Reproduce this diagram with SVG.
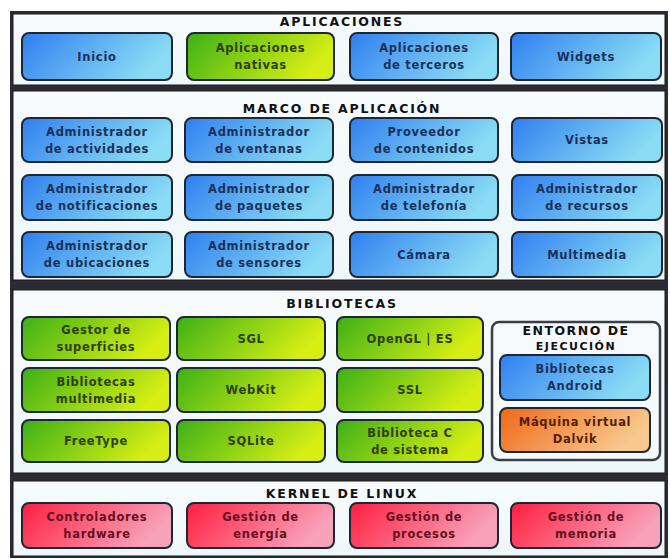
<svg xmlns="http://www.w3.org/2000/svg" width="670" height="559" viewBox="0 0 670 559">
<defs>
<linearGradient id="gBlue" x1="0" y1="0" x2="1" y2="0.3"><stop offset="0" stop-color="#2f7ff0"/><stop offset="1" stop-color="#8adcf4"/></linearGradient>
<linearGradient id="gGreen" x1="0" y1="0" x2="1" y2="0.3"><stop offset="0" stop-color="#3cb016"/><stop offset="1" stop-color="#d6ee14"/></linearGradient>
<linearGradient id="gRed" x1="0" y1="0" x2="1" y2="0.3"><stop offset="0" stop-color="#ff1e3e"/><stop offset="1" stop-color="#f8a2ba"/></linearGradient>
<linearGradient id="gOrange" x1="0" y1="0" x2="1" y2="0.3"><stop offset="0" stop-color="#f06818"/><stop offset="1" stop-color="#f8c88e"/></linearGradient>
<linearGradient id="gPanel" x1="0" y1="0" x2="0" y2="1"><stop offset="0" stop-color="#f7fbfd"/><stop offset="1" stop-color="#eef7fa"/></linearGradient>
</defs>
<style>
.frame{fill:#2c2a32}
.panel{fill:url(#gPanel);stroke:#1a1a1a;stroke-width:1}
.box{stroke:#1d2733;stroke-width:2}
.blue{fill:url(#gBlue)}
.green{fill:url(#gGreen)}
.red{fill:url(#gRed)}
.orange{fill:url(#gOrange)}
.env{fill:#f6fafc;stroke:#3a3f46;stroke-width:2.5}
text{font-family:"DejaVu Sans","Liberation Sans",sans-serif;font-weight:bold;text-anchor:middle}
.t{font-size:11.5px;letter-spacing:0.7px}
.tb{fill:#1c3058}
.tg{fill:#2f3e0a}
.tr{fill:#661020}
.to{fill:#551e06}
.title{font-size:12.5px;letter-spacing:1.8px;fill:#111}
</style>
<rect class="frame" x="10" y="11" width="658" height="547"/>
<g id="panel-aplicaciones">
<rect class="panel" x="13" y="14" width="652" height="71"/>
<text class="title" x="342" y="26">APLICACIONES</text>
</g>
<g id="panel-marco">
<rect class="panel" x="13" y="91" width="652" height="189"/>
<text class="title" x="342" y="113">MARCO DE APLICACIÓN</text>
</g>
<g id="panel-bibliotecas">
<rect class="panel" x="13" y="290" width="652" height="183"/>
<text class="title" x="342" y="308">BIBLIOTECAS</text>
</g>
<g id="panel-kernel">
<rect class="panel" x="13" y="481" width="652" height="75"/>
<text class="title" x="342" y="498">KERNEL DE LINUX</text>
</g>
<g id="connectors"/>
<!-- Aplicaciones -->
<g id="n-inicio"><rect class="box blue" x="22" y="33" width="150" height="47" rx="7"/><text class="t tb" x="97" y="60.5">Inicio</text></g>
<g id="n-apl-nativas"><rect class="box green" x="187" y="33" width="147" height="47" rx="7"/><text class="t tg" x="260.5" y="52">Aplicaciones</text><text class="t tg" x="260.5" y="69">nativas</text></g>
<g id="n-apl-terceros"><rect class="box blue" x="350" y="33" width="148" height="47" rx="7"/><text class="t tb" x="424" y="52">Aplicaciones</text><text class="t tb" x="424" y="69">de terceros</text></g>
<g id="n-widgets"><rect class="box blue" x="511" y="33" width="150" height="47" rx="7"/><text class="t tb" x="586" y="60.5">Widgets</text></g>
<!-- Marco de aplicacion -->
<g id="n-adm-actividades"><rect class="box blue" x="22" y="118" width="150" height="44" rx="7"/><text class="t tb" x="97" y="135.5">Administrador</text><text class="t tb" x="97" y="152.5">de actividades</text></g>
<g id="n-adm-ventanas"><rect class="box blue" x="185" y="118" width="148" height="44" rx="7"/><text class="t tb" x="259" y="135.5">Administrador</text><text class="t tb" x="259" y="152.5">de ventanas</text></g>
<g id="n-proveedor"><rect class="box blue" x="350" y="118" width="148" height="44" rx="7"/><text class="t tb" x="424" y="135.5">Proveedor</text><text class="t tb" x="424" y="152.5">de contenidos</text></g>
<g id="n-vistas"><rect class="box blue" x="512" y="118" width="150" height="44" rx="7"/><text class="t tb" x="587" y="144">Vistas</text></g>
<g id="n-adm-notificaciones"><rect class="box blue" x="22" y="175" width="150" height="45" rx="7"/><text class="t tb" x="97" y="193">Administrador</text><text class="t tb" x="97" y="210">de notificaciones</text></g>
<g id="n-adm-paquetes"><rect class="box blue" x="185" y="175" width="148" height="45" rx="7"/><text class="t tb" x="259" y="193">Administrador</text><text class="t tb" x="259" y="210">de paquetes</text></g>
<g id="n-adm-telefonia"><rect class="box blue" x="350" y="175" width="148" height="45" rx="7"/><text class="t tb" x="424" y="193">Administrador</text><text class="t tb" x="424" y="210">de telefonía</text></g>
<g id="n-adm-recursos"><rect class="box blue" x="512" y="175" width="150" height="45" rx="7"/><text class="t tb" x="587" y="193">Administrador</text><text class="t tb" x="587" y="210">de recursos</text></g>
<g id="n-adm-ubicaciones"><rect class="box blue" x="22" y="232" width="150" height="45" rx="7"/><text class="t tb" x="97" y="250">Administrador</text><text class="t tb" x="97" y="267">de ubicaciones</text></g>
<g id="n-adm-sensores"><rect class="box blue" x="185" y="232" width="148" height="45" rx="7"/><text class="t tb" x="259" y="250">Administrador</text><text class="t tb" x="259" y="267">de sensores</text></g>
<g id="n-camara"><rect class="box blue" x="350" y="232" width="148" height="45" rx="7"/><text class="t tb" x="424" y="258.5">Cámara</text></g>
<g id="n-multimedia"><rect class="box blue" x="512" y="232" width="150" height="45" rx="7"/><text class="t tb" x="587" y="258.5">Multimedia</text></g>
<!-- Bibliotecas -->
<g id="n-gestor-superficies"><rect class="box green" x="22" y="317" width="148" height="43" rx="7"/><text class="t tg" x="96" y="334">Gestor de</text><text class="t tg" x="96" y="351">superficies</text></g>
<g id="n-sgl"><rect class="box green" x="177" y="317" width="148" height="43" rx="7"/><text class="t tg" x="251" y="342.5">SGL</text></g>
<g id="n-opengl"><rect class="box green" x="337" y="317" width="146" height="43" rx="7"/><text class="t tg" x="410" y="342.5">OpenGL | ES</text></g>
<g id="n-bib-multimedia"><rect class="box green" x="22" y="368" width="148" height="44" rx="7"/><text class="t tg" x="96" y="385.5">Bibliotecas</text><text class="t tg" x="96" y="402.5">multimedia</text></g>
<g id="n-webkit"><rect class="box green" x="177" y="368" width="148" height="44" rx="7"/><text class="t tg" x="251" y="394">WebKit</text></g>
<g id="n-ssl"><rect class="box green" x="337" y="368" width="146" height="44" rx="7"/><text class="t tg" x="410" y="394">SSL</text></g>
<g id="n-freetype"><rect class="box green" x="22" y="420" width="148" height="42" rx="7"/><text class="t tg" x="96" y="445">FreeType</text></g>
<g id="n-sqlite"><rect class="box green" x="177" y="420" width="148" height="42" rx="7"/><text class="t tg" x="251" y="445">SQLite</text></g>
<g id="n-bib-c"><rect class="box green" x="337" y="420" width="146" height="42" rx="7"/><text class="t tg" x="410" y="436.5">Biblioteca C</text><text class="t tg" x="410" y="453.5">de sistema</text></g>
<g id="n-entorno">
<rect class="env" x="492" y="322" width="168" height="138" rx="7"/>
<text class="title" x="576" y="335" style="letter-spacing:1.5px">ENTORNO DE</text>
<text class="title" x="576" y="349.5" style="font-size:11px;letter-spacing:1.5px">EJECUCIÓN</text>
</g>
<g id="n-bib-android"><rect class="box blue" x="500" y="355" width="150" height="45" rx="7"/><text class="t tb" x="575" y="373">Bibliotecas</text><text class="t tb" x="575" y="390">Android</text></g>
<g id="n-dalvik"><rect class="box orange" x="500" y="408" width="150" height="44" rx="7"/><text class="t to" x="575" y="425.5">Máquina virtual</text><text class="t to" x="575" y="442.5">Dalvik</text></g>
<!-- Kernel -->
<g id="n-controladores"><rect class="box red" x="22" y="503" width="150" height="45" rx="7"/><text class="t tr" x="97" y="521">Controladores</text><text class="t tr" x="97" y="538">hardware</text></g>
<g id="n-energia"><rect class="box red" x="187" y="503" width="147" height="45" rx="7"/><text class="t tr" x="260.5" y="521">Gestión de</text><text class="t tr" x="260.5" y="538">energía</text></g>
<g id="n-procesos"><rect class="box red" x="350" y="503" width="148" height="45" rx="7"/><text class="t tr" x="424" y="521">Gestión de</text><text class="t tr" x="424" y="538">procesos</text></g>
<g id="n-memoria"><rect class="box red" x="511" y="503" width="150" height="45" rx="7"/><text class="t tr" x="586" y="521">Gestión de</text><text class="t tr" x="586" y="538">memoria</text></g>
</svg>
